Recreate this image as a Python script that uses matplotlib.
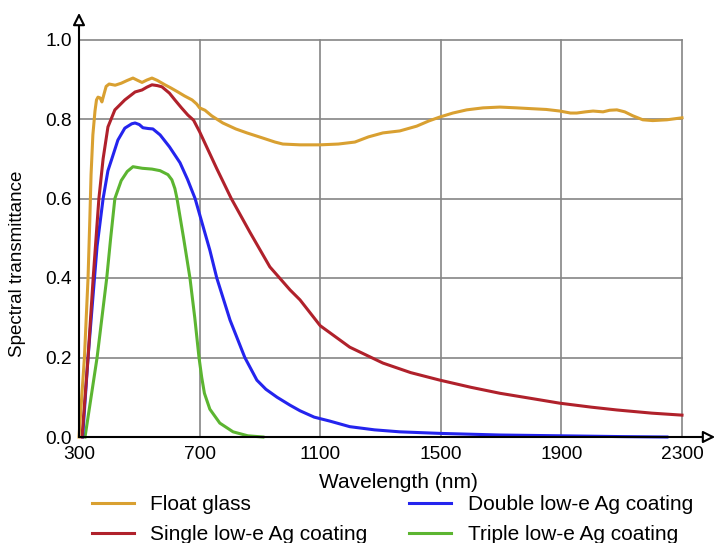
import matplotlib.pyplot as plt

plt.rcParams['font.family'] = ['Liberation Sans', 'DejaVu Sans']

# ----- data -----
wl_float = [300, 318, 330, 336, 340, 346, 353, 358, 363, 370, 376, 382, 390, 400, 420, 440,
            460, 479, 495, 509, 525, 542, 560, 585, 605, 628, 650, 675, 690, 700, 718, 740,
            777, 820, 857, 910, 950, 976, 1033, 1100, 1160, 1215, 1260, 1308, 1364, 1420,
            1460, 1497, 1540, 1586, 1640, 1696, 1752, 1800, 1850, 1895, 1930, 1951, 1980,
            2005, 2038, 2060, 2084, 2110, 2137, 2170, 2203, 2250, 2300]
t_float = [0.0, 0.2, 0.4, 0.55, 0.66, 0.76, 0.82, 0.848, 0.855, 0.853, 0.843, 0.86, 0.882,
           0.888, 0.885, 0.89, 0.897, 0.903, 0.897, 0.892, 0.898, 0.903, 0.897, 0.886, 0.878,
           0.868, 0.858, 0.848, 0.838, 0.828, 0.822, 0.808, 0.79, 0.775, 0.765, 0.752, 0.742,
           0.737, 0.735, 0.735, 0.737, 0.742, 0.755, 0.765, 0.77, 0.782, 0.795, 0.805, 0.815,
           0.823, 0.828, 0.83, 0.828, 0.826, 0.824, 0.82, 0.815, 0.815, 0.818, 0.82, 0.818,
           0.822, 0.823, 0.818, 0.808, 0.798, 0.796, 0.798, 0.803]

wl_single = [310, 330, 347, 366, 380, 396, 419, 452, 486, 509, 525, 542, 560, 575, 600, 618,
             640, 661, 680, 700, 757, 805, 867, 933, 1000, 1033, 1100, 1198, 1308, 1400,
             1497, 1600, 1696, 1800, 1895, 2000, 2084, 2200, 2300]
t_single = [0.0, 0.2, 0.4, 0.6, 0.7, 0.78, 0.823, 0.848, 0.868, 0.873, 0.88, 0.886, 0.884,
            0.881, 0.865, 0.848, 0.828, 0.81, 0.797, 0.768, 0.675, 0.6, 0.515, 0.428, 0.37,
            0.345, 0.28, 0.226, 0.186, 0.162, 0.143, 0.125, 0.11, 0.097, 0.085, 0.075, 0.068,
            0.06, 0.055]

wl_double = [312, 330, 346, 360, 380, 396, 409, 429, 452, 475, 486, 500, 512, 530, 545, 569,
             600, 635, 660, 685, 734, 757, 801, 850, 890, 920, 957, 1000, 1033, 1080,
             1132, 1198, 1280, 1364, 1500, 1696, 1900, 2100, 2250]
t_double = [0.0, 0.2, 0.35, 0.48, 0.6, 0.67, 0.7, 0.747, 0.777, 0.788, 0.79, 0.786, 0.778,
            0.776, 0.775, 0.76, 0.73, 0.69, 0.648, 0.6, 0.47, 0.4, 0.294, 0.2, 0.143,
            0.12, 0.1, 0.08, 0.066, 0.05, 0.04, 0.026, 0.018, 0.013, 0.009, 0.005, 0.003,
            0.001, 0.0]

wl_triple = [320, 340, 360, 376, 392, 405, 419, 440, 460, 479, 510, 542, 569, 595, 608, 618,
             625, 647, 668, 684, 698, 707, 716, 734, 767, 811, 860, 910]
t_triple = [0.0, 0.1, 0.2, 0.3, 0.4, 0.5, 0.6, 0.645, 0.668, 0.68, 0.676, 0.674, 0.67, 0.66,
            0.647, 0.625, 0.6, 0.5, 0.4, 0.3, 0.2, 0.15, 0.11, 0.07, 0.035, 0.013, 0.003, 0.0]

x_ticks = [300, 700, 1100, 1500, 1900, 2300]
y_ticks = [0.0, 0.2, 0.4, 0.6, 0.8, 1.0]

C_FLOAT = "#D9A031"
C_SINGLE = "#B0212B"
C_DOUBLE = "#2424EE"
C_TRIPLE = "#5CB531"

# ----- figure -----
fig = plt.figure(figsize=(7.21, 5.43), dpi=100)
ax = fig.add_axes([79/721, 106/543, 603/721, 397.5/543])
ax.set_xlim(300, 2300)
ax.set_ylim(0, 1.0)

# grid drawn by hand so the edge lines are not clipped
for x in x_ticks[1:]:
    ax.plot([x, x], [0, 1.0], color="#858585", lw=1.2, zorder=1, clip_on=False)
for y in y_ticks[1:]:
    ax.plot([300, 2300], [y, y], color="#858585", lw=1.2, zorder=1, clip_on=False)

lw = 2.2
l_tri, = ax.plot(wl_triple, t_triple, color=C_TRIPLE, lw=lw, zorder=3, clip_on=False)
l_dbl, = ax.plot(wl_double, t_double, color=C_DOUBLE, lw=lw, zorder=3, clip_on=False)
l_sgl, = ax.plot(wl_single, t_single, color=C_SINGLE, lw=lw, zorder=4, clip_on=False)
l_flt, = ax.plot(wl_float, t_float, color=C_FLOAT, lw=lw, zorder=5, clip_on=False)

# axes with open arrow heads
for s in ax.spines.values():
    s.set_visible(False)
arrow = dict(arrowstyle="-|>", fc="white", ec="black", lw=1.5,
             mutation_scale=18, shrinkA=0, shrinkB=0)
ax.annotate("", xy=(1.055, 0), xytext=(0, 0), xycoords="axes fraction",
            arrowprops=arrow, zorder=6)
ax.annotate("", xy=(0, 1.067), xytext=(0, 0), xycoords="axes fraction",
            arrowprops=arrow, zorder=6)

ax.set_xticks(x_ticks)
ax.set_xticklabels([str(v) for v in x_ticks])
ax.set_yticks(y_ticks)
ax.set_yticklabels([f"{v:.1f}" for v in y_ticks])
ax.tick_params(axis="both", length=0, labelsize=13.8)
ax.tick_params(axis="x", pad=6.5)
ax.tick_params(axis="y", pad=5)

ax.set_xlabel("Wavelength (nm)", fontsize=15)
ax.xaxis.set_label_coords(0.529, -0.09)
ax.set_ylabel("Spectral transmittance", fontsize=13.5)
ax.yaxis.set_label_coords(-0.088, 0.435)

fig.legend([l_flt, l_sgl, l_dbl, l_tri],
           ["Float glass", "Single low-e Ag coating",
            "Double low-e Ag coating", "Triple low-e Ag coating"],
           ncol=2, loc="upper left", bbox_to_anchor=(92/721, 1 - 495/543),
           frameon=False, fontsize=15, borderpad=0, borderaxespad=0,
           handlelength=2.0, handletextpad=0.8, columnspacing=2.0,
           labelspacing=0.52)

fig.savefig("out.png", dpi=100)
